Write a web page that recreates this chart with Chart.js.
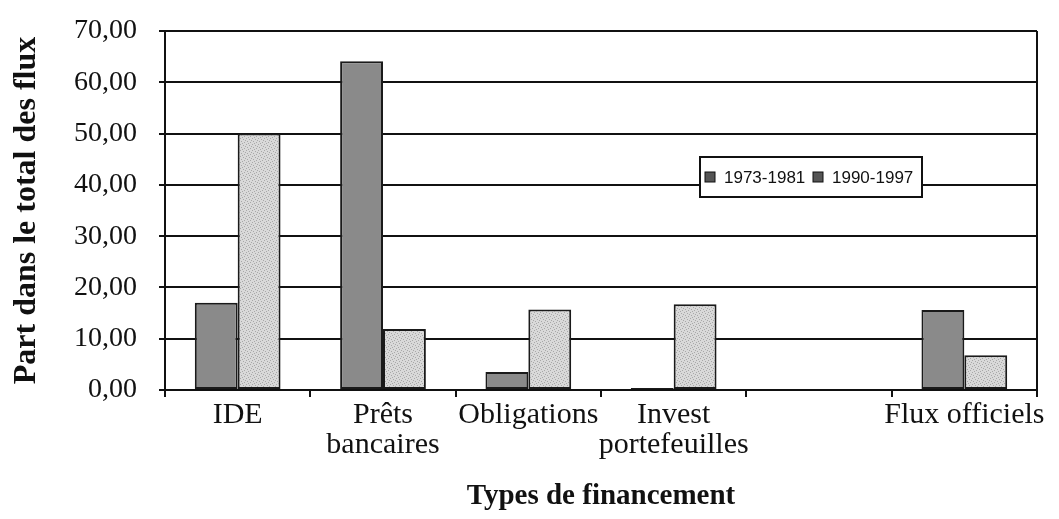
<!DOCTYPE html>
<html><head><meta charset="utf-8">
<script src="https://cdn.jsdelivr.net/npm/chart.js@4/dist/chart.umd.min.js"></script>
<style>html,body{margin:0;padding:0;background:#fff}#w{width:1059px;height:519px}</style>
</head><body><div id="w"><canvas id="c"></canvas></div>
<script>
const categories = ['IDE', ['Prêts','bancaires'], 'Obligations', ['Invest','portefeuilles'], '', 'Flux officiels'];
const seriesNames = ['1973-1981', '1990-1997'];
const values1973 = [17.0, 64.1, 3.5, 0.4, 0, 15.6];
const values1990 = [50.0, 11.9, 15.7, 16.7, 0, 6.8];
const yTicks = [0, 10, 20, 30, 40, 50, 60, 70];

function stipple(){
  const p = document.createElement('canvas'); p.width = 6; p.height = 6;
  const g = p.getContext('2d');
  g.fillStyle = '#d9d9d9'; g.fillRect(0,0,6,6);
  g.fillStyle = '#a8a8a8';
  [[0,0],[3,1],[1,3],[4,4],[2,5],[5,2]].forEach(([x,y])=>g.fillRect(x,y,1,1));
  return document.getElementById('c').getContext('2d').createPattern(p,'repeat');
}

const serif = "'Liberation Serif', 'Times New Roman', serif";

const extras = {
  id: 'extras',
  afterDraw(chart){
    const {ctx, chartArea:a} = chart;
    ctx.save();
    ctx.strokeStyle = '#111'; ctx.lineWidth = 2;
    ctx.beginPath(); ctx.moveTo(a.right, a.top); ctx.lineTo(a.right, a.bottom); ctx.stroke();
    // legend box
    const bx = 700, by = 157, bw = 222, bh = 40;
    ctx.fillStyle = '#fff'; ctx.fillRect(bx, by, bw, bh);
    ctx.strokeRect(bx, by, bw, bh);
    ctx.font = "17px 'Liberation Sans Narrow', 'Liberation Sans', Arial, sans-serif";
    ctx.textBaseline = 'middle'; ctx.textAlign = 'left';
    const items = [{x:705, tx:724}, {x:813, tx:832}];
    chart.data.datasets.forEach((ds, i) => {
      const it = items[i];
      ctx.fillStyle = '#555'; ctx.fillRect(it.x, by+15, 10, 10);
      ctx.lineWidth = 1; ctx.strokeStyle = '#111'; ctx.strokeRect(it.x, by+15, 10, 10);
      ctx.fillStyle = '#111'; ctx.fillText(ds.label, it.tx, by+bh/2+1);
    });
    ctx.restore();
  }
};

new Chart(document.getElementById('c'), {
  type: 'bar',
  data: {
    labels: categories,
    datasets: [
      {label: seriesNames[0], data: values1973, backgroundColor: '#8a8a8a', borderColor: '#1a1a1a', borderWidth: 2, borderSkipped: false},
      {label: seriesNames[1], data: values1990, backgroundColor: stipple(), borderColor: '#1a1a1a', borderWidth: 2, borderSkipped: false}
    ]
  },
  options: {
    responsive: true, maintainAspectRatio: false, animation: false,
    layout: {padding: {top: 31, right: 22, bottom: 0, left: 0}},
    plugins: {legend: {display: false}, tooltip: {enabled: false}},
    datasets: {bar: {categoryPercentage: 0.59, barPercentage: 1.0}},
    scales: {
      x: {
        offset: true,
        grid: {drawOnChartArea: false, drawTicks: true, tickLength: 7, color: '#111', lineWidth: 2},
        border: {color: '#111', width: 2},
        ticks: {color: '#111', padding: 3, maxRotation: 0, autoSkip: false, font: {family: serif, size: 30, lineHeight: 1.0}},
        title: {display: true, text: 'Types de financement', color: '#111', font: {family: serif, size: 29, weight: 'bold'}, padding: {top: 0, bottom: 5}},
        afterFit(s){ s.height = 129; }
      },
      y: {
        min: 0, max: 70,
        afterBuildTicks(s){ s.ticks = yTicks.map(v => ({value: v})); },
        grid: {color: '#111', lineWidth: 2, tickLength: 6},
        border: {color: '#111', width: 2},
        ticks: {color: '#111', padding: 22, font: {family: serif, size: 28},
          callback: v => v.toFixed(2).replace('.', ',')},
        title: {display: true, text: 'Part dans le total des flux', color: '#111', font: {family: serif, size: 32, weight: 'bold'}, padding: {top: 8, bottom: 0}},
        afterFit(s){ s.width = 165; s.paddingTop = 10; s.paddingBottom = 10; }
      }
    }
  },
  plugins: [extras]
});
</script></body></html>
